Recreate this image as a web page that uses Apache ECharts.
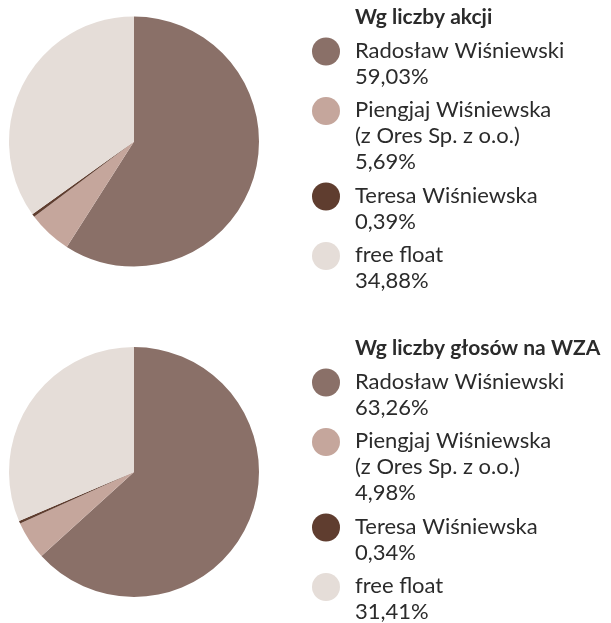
<!DOCTYPE html>
<html>
<head>
<meta charset="utf-8">
<title>Akcjonariat</title>
<script src="https://cdn.jsdelivr.net/npm/echarts@6/dist/echarts.min.js"></script>
<style>
  html, body { margin: 0; padding: 0; background: #fff; }
  #chart { width: 611px; height: 623px; }
</style>
</head>
<body>
<div id="chart"></div>
<script>
  // dane
  const names = ['Radosław Wiśniewski', 'Piengjaj Wiśniewska\n(z Ores Sp. z o.o.)', 'Teresa Wiśniewska', 'free float']
  const sharesPct = [59.03, 5.69, 0.39, 34.88]
  const votesPct = [63.26, 4.98, 0.34, 31.41]
  const titles = ['Wg liczby akcji', 'Wg liczby głosów na WZA']
  const colors = ['#8a7068', '#c5a69c', '#5f3d2f', '#e5ddd8']

  const font = 'Lato, "Open Sans", sans-serif'
  const textColor = '#2b2b2b'
  const fmt = v => v.toFixed(2).replace('.', ',') + '%'

  const chart = echarts.init(document.getElementById('chart'))

  const blocks = [
    { values: sharesPct, cy: 141.5, top: 0 },
    { values: votesPct, cy: 472, top: 331 }
  ]

  // legenda rysowana recznie, zeby kolko stalo przy pierwszej linii
  const graphics = []
  blocks.forEach((b) => {
    let y = b.top + 52
    names.forEach((n, i) => {
      const text = n + '\n' + fmt(b.values[i])
      const lines = text.split('\n').length
      graphics.push({
        type: 'circle',
        shape: { cx: 326, cy: y - 0.5, r: 14 },
        style: { fill: colors[i] },
        silent: true
      })
      graphics.push({
        type: 'text',
        x: 355,
        y: y - 14.5,
        style: {
          text: text,
          font: '22px ' + font,
          lineHeight: 26,
          fill: textColor,
          verticalAlign: 'top'
        },
        silent: true
      })
      y += lines * 26 + 7.5
    })
  })

  chart.setOption({
    animation: false,
    title: titles.map((t, k) => ({
      text: t,
      left: 355,
      top: blocks[k].top + 7,
      padding: 0,
      textStyle: { fontFamily: font, fontSize: 21, fontWeight: 'bold', color: textColor }
    })),
    color: colors,
    series: blocks.map(b => ({
      type: 'pie',
      center: [134, b.cy],
      radius: 125,
      startAngle: 90,
      clockwise: true,
      label: { show: false },
      labelLine: { show: false },
      emphasis: { disabled: true },
      itemStyle: { borderWidth: 0 },
      data: names.map((n, i) => ({ name: n, value: b.values[i] }))
    })),
    graphic: graphics
  })
</script>
</body>
</html>
